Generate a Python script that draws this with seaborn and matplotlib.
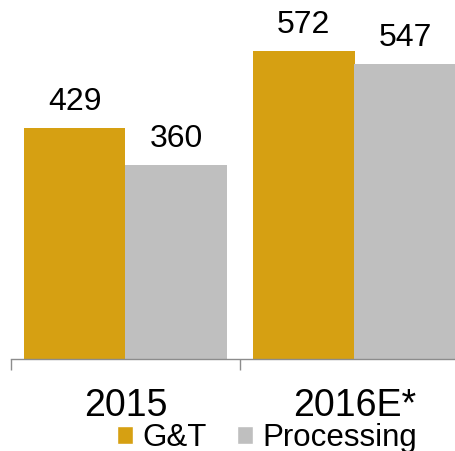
import matplotlib
matplotlib.use("Agg")
import matplotlib.pyplot as plt
import seaborn as sns
import pandas as pd
from matplotlib.patches import Patch

categories = ["2015", "2016E*"]
series = ["G&T", "Processing"]
gt_values = [429, 572]
proc_values = [360, 547]
colors = ["#D6A012", "#BFBFBF"]

df = pd.DataFrame({
    "year": categories * 2,
    "segment": [series[0]] * 2 + [series[1]] * 2,
    "value": gt_values + proc_values,
})

sns.set_style("white")
plt.rcParams["font.family"] = ["Liberation Sans", "DejaVu Sans"]
plt.rcParams["text.color"] = "black"
plt.rcParams["xtick.color"] = "black"

fig = plt.figure(figsize=(4.55, 4.51), dpi=100)
ax = fig.add_axes([11 / 455, 92 / 451, 458 / 455, 359 / 451])

sns.barplot(data=df, x="year", y="value", hue="segment", palette=colors,
            width=0.89, gap=0, saturation=1, linewidth=0, ax=ax, legend=False)

for c in ax.containers:
    ax.bar_label(c, fmt="%d", padding=8, fontsize=23, color="black")

ax.set_xlim(-0.5, 1.5)
ax.set_ylim(0, 359 / 0.5385)
ax.set_xlabel("")
ax.set_ylabel("")
ax.set_yticks([])
for s in ["left", "right", "top"]:
    ax.spines[s].set_visible(False)
ax.spines["bottom"].set_color("#8C8C8C")
ax.spines["bottom"].set_linewidth(1)

ax.set_xticks([0, 1])
ax.set_xticklabels(categories, fontsize=27, color="black")
ax.tick_params(axis="x", which="major", length=0, pad=21, bottom=True)
ax.set_xticks([-0.5, 0.5, 1.5], minor=True)
ax.tick_params(axis="x", which="minor", length=8, width=1, color="#8C8C8C",
               direction="out", bottom=True)

handles = [Patch(facecolor=colors[0]), Patch(facecolor=colors[1])]
fig.legend(handles, series, loc="upper left", bbox_to_anchor=(117 / 455, 1 - 423 / 451),
           ncol=2, frameon=False, fontsize=22.5, handlelength=0.52, handleheight=0.52,
           handletextpad=0.29, columnspacing=0.97, borderpad=0, borderaxespad=0)

fig.savefig("out.png", dpi=100)
